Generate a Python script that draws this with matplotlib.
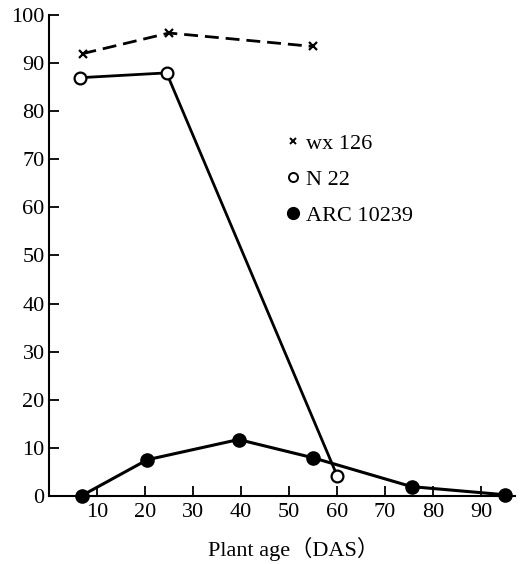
import matplotlib
matplotlib.use("Agg")
import matplotlib.pyplot as plt
from matplotlib.lines import Line2D

plt.rcParams['font.family'] = ['Liberation Serif', 'Noto Sans CJK JP', 'DejaVu Serif']

# readings
wx_age = [7, 25, 55]
wx_val = [92, 96.3, 93.5]
n22_age = [6.5, 24.5, 60]
n22_val = [87, 88, 4.2]
arc_age = [6.8, 20.5, 39.5, 55, 75.5, 95]
arc_val = [0, 7.5, 11.7, 7.9, 1.9, 0.2]
xticks = [10, 20, 30, 40, 50, 60, 70, 80, 90]
yticks = [0, 10, 20, 30, 40, 50, 60, 70, 80, 90, 100]

fig = plt.figure(figsize=(5.2, 5.64), dpi=100)
ax = fig.add_axes([0.094, 0.121, 0.896, 0.852])

ax.plot(wx_age, wx_val, color='black', lw=2.0, ls=(0, (5, 2.5)),
        marker='x', ms=6, mew=1.6)
ax.plot(n22_age, n22_val, color='black', lw=2.0, marker='o', ms=8.5,
        mfc='white', mec='black', mew=1.6)
ax.plot(arc_age, arc_val, color='black', lw=2.2, marker='o', ms=9.5,
        mfc='black', mec='black', clip_on=False, zorder=5)

ax.set_xlim(0, 97)
ax.set_ylim(0, 100)
ax.set_xticks(xticks)
ax.set_yticks(yticks)
ax.tick_params(direction='in', length=7, width=1.3, labelsize=16, pad=3)
ax.tick_params(axis='x', pad=5)
for s in ['top', 'right']:
    ax.spines[s].set_visible(False)
for s in ['left', 'bottom']:
    ax.spines[s].set_linewidth(1.5)

ax.set_xlabel('Plant age（DAS）', fontsize=16)
ax.xaxis.set_label_coords(0.525, -0.085)

handles = [
    Line2D([], [], ls='none', marker='x', ms=5, mew=1.4, color='black'),
    Line2D([], [], ls='none', marker='o', ms=6.5, mfc='white', mec='black', mew=1.4),
    Line2D([], [], ls='none', marker='o', ms=8.5, color='black'),
]
ax.legend(handles, ['wx 126', 'N 22', 'ARC 10239'], frameon=False,
          fontsize=16, loc='upper left', bbox_to_anchor=(0.467, 0.796),
          handlelength=0.6, handletextpad=0.3, labelspacing=0.7)

fig.savefig('out.png', dpi=100)
